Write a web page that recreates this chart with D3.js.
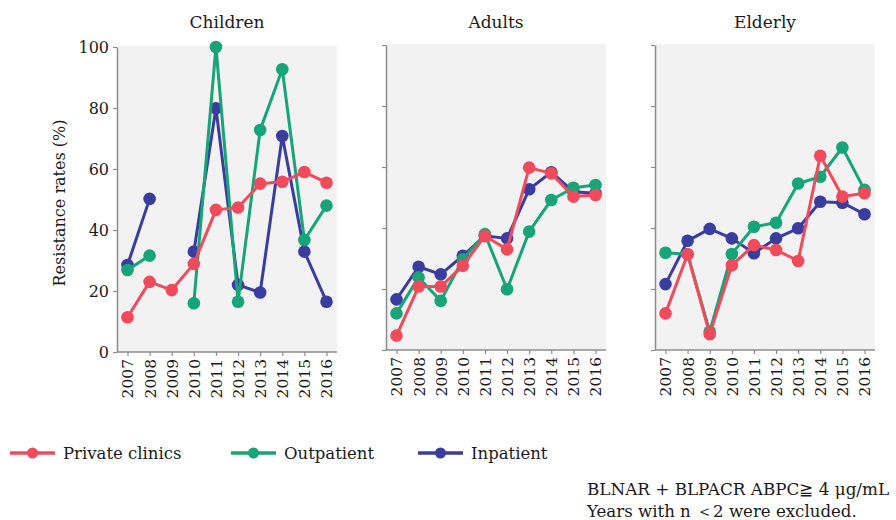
<!DOCTYPE html>
<html>
<head>
<meta charset="utf-8">
<script src="https://cdn.jsdelivr.net/npm/d3@7"></script>
<style>
  html, body { margin: 0; padding: 0; background: #ffffff; }
  svg { display: block; }
  text { font-family: "DejaVu Serif", "Liberation Serif", serif; fill: #1a1a1a; }
</style>
</head>
<body>
<svg id="chart" width="896" height="520"></svg>
<script>
// Resistance rates by age group and setting, 2007-2016
const years = [2007, 2008, 2009, 2010, 2011, 2012, 2013, 2014, 2015, 2016];
const groups = ["Children", "Adults", "Elderly"];
const settings = ["Private clinics", "Outpatient", "Inpatient"];
const yTicks = [0, 20, 40, 60, 80, 100];

const childrenPrivate    = [11.4, 23.0, 20.3, 28.9, 46.6, 47.4, 55.2, 55.8, 59.0, 55.5];
const childrenOutpatient = [26.9, 31.6, null, 16.0, 100, 16.5, 72.8, 92.7, 36.7, 48.0];
const childrenInpatient  = [28.5, 50.2, null, 32.9, 79.9, 22.0, 19.5, 70.8, 32.9, 16.5];

const adultsPrivate      = [4.7, 20.8, 20.8, 27.6, 37.4, 33.0, 59.8, 57.9, 50.3, 50.8];
const adultsOutpatient   = [12.0, 23.8, 16.1, 29.7, 38.0, 19.9, 38.8, 49.2, 53.2, 54.1];
const adultsInpatient    = [16.6, 27.3, 24.8, 30.9, 37.4, 36.6, 52.7, 58.3, 51.9, 51.4];

const elderlyPrivate     = [12.0, 31.4, 5.2, 27.8, 34.4, 32.8, 29.2, 63.7, 50.3, 51.4];
const elderlyOutpatient  = [31.9, 31.4, 6.0, 31.5, 40.4, 41.7, 54.6, 56.8, 66.4, 52.5];
const elderlyInpatient   = [21.6, 35.8, 39.7, 36.6, 31.7, 36.6, 39.9, 48.6, 48.3, 44.5];

const panelData = [
  { title: groups[0], series: { "Private clinics": childrenPrivate, "Outpatient": childrenOutpatient, "Inpatient": childrenInpatient } },
  { title: groups[1], series: { "Private clinics": adultsPrivate,   "Outpatient": adultsOutpatient,   "Inpatient": adultsInpatient } },
  { title: groups[2], series: { "Private clinics": elderlyPrivate,  "Outpatient": elderlyOutpatient,  "Inpatient": elderlyInpatient } }
];

const colors = { "Private clinics": "#ef4b5c", "Outpatient": "#17a476", "Inpatient": "#3b3d9e" };
const drawOrder = ["Inpatient", "Outpatient", "Private clinics"];

// layout
const panelLeft = [117, 386, 655];
const panelBottom = [352, 350, 350];
const panelW = 220, panelH = 305;

const svg = d3.select("#chart");

panelData.forEach((p, i) => {
  const x0 = panelLeft[i], y0 = panelBottom[i];
  const x = d3.scalePoint().domain(years).range([x0 + 10.5, x0 + panelW - 10.5]);
  const y = d3.scaleLinear().domain([0, 100]).range([y0, y0 - panelH]);

  const g = svg.append("g");

  g.append("rect")
    .attr("x", x0).attr("y", y(100) - 1)
    .attr("width", panelW).attr("height", y0 - y(100) + 1)
    .attr("fill", "#f2f2f2");

  // y axis
  const yAxis = d3.axisLeft(y).tickValues(yTicks).tickSize(4).tickSizeOuter(0)
    .tickFormat(i === 0 ? d3.format("d") : () => "");
  const ya = g.append("g").attr("transform", `translate(${x0},0)`).call(yAxis);
  ya.select(".domain").attr("stroke", "#8c8c8c").attr("stroke-width", 1.5);
  ya.selectAll(".tick line").attr("stroke", "#8c8c8c").attr("stroke-width", 1.2);
  ya.selectAll(".tick text").attr("font-size", 16).attr("font-family", "DejaVu Serif").attr("fill", "#1a1a1a").attr("x", -8);

  // x axis
  const xAxis = d3.axisBottom(x).tickSize(4).tickSizeOuter(0).tickFormat(d3.format("d"));
  const xa = g.append("g").attr("transform", `translate(0,${y0})`).call(xAxis);
  xa.select(".domain").attr("d", `M${x0},0H${x0 + panelW}`).attr("stroke", "#8c8c8c").attr("stroke-width", 1.5);
  xa.selectAll(".tick line").attr("stroke", "#8c8c8c").attr("stroke-width", 1.2);
  xa.selectAll(".tick text")
    .attr("font-size", 15.5).attr("font-family", "DejaVu Serif").attr("fill", "#1a1a1a")
    .attr("transform", "rotate(-90)")
    .attr("text-anchor", "end")
    .attr("x", -7).attr("y", 0).attr("dy", "0.35em");

  // panel title
  g.append("text")
    .attr("x", x0 + panelW / 2).attr("y", 28)
    .attr("text-anchor", "middle").attr("font-size", 17)
    .text(p.title);

  const line = d3.line()
    .defined(d => d.v !== null)
    .x(d => x(d.year)).y(d => y(d.v));

  drawOrder.forEach(s => {
    const pts = years.map((yr, k) => ({ year: yr, v: p.series[s][k] }));
    g.append("path")
      .datum(pts)
      .attr("d", line)
      .attr("fill", "none")
      .attr("stroke", colors[s])
      .attr("stroke-width", 3)
      .attr("stroke-linejoin", "round");
    g.selectAll(null)
      .data(pts.filter(d => d.v !== null))
      .enter().append("circle")
      .attr("cx", d => x(d.year)).attr("cy", d => y(d.v))
      .attr("r", 6.3)
      .attr("fill", colors[s]);
  });
});

// y axis title
svg.append("text")
  .attr("transform", "translate(65,203) rotate(-90)")
  .attr("text-anchor", "middle").attr("font-size", 16)
  .text("Resistance rates (%)");

// legend
const legendX = [10, 231, 418];
const legend = svg.append("g");
settings.forEach((s, i) => {
  const lx = legendX[i], ly = 453;
  legend.append("line")
    .attr("x1", lx).attr("x2", lx + 45).attr("y1", ly).attr("y2", ly)
    .attr("stroke", colors[s]).attr("stroke-width", 3.5);
  legend.append("circle")
    .attr("cx", lx + 22.5).attr("cy", ly).attr("r", 5.5).attr("fill", colors[s]);
  legend.append("text")
    .attr("x", lx + 53).attr("y", ly).attr("dy", "0.35em")
    .attr("font-size", 16.5)
    .text(s);
});

// footnote
const notes = ["BLNAR + BLPACR ABPC\u2267 4 \u03bcg/mL", "Years with n \uff1c2 were excluded."];
svg.append("text").attr("x", 587).attr("y", 495).attr("font-size", 16.8).text(notes[0]);
svg.append("text").attr("x", 587).attr("y", 517).attr("font-size", 16.6).text(notes[1]);
</script>
</body>
</html>
